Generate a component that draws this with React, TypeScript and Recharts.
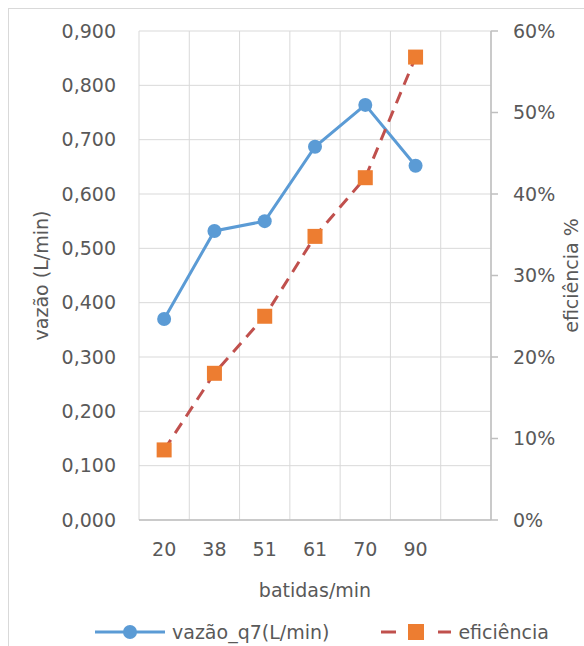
import {
  ComposedChart,
  Line,
  XAxis,
  YAxis,
  CartesianGrid,
  Legend,
} from "recharts";

const categorias = ["20", "38", "51", "61", "70", "90", ""];
const vazao = [0.37, 0.532, 0.55, 0.687, 0.764, 0.652, null];
const eficiencia = [0.086, 0.18, 0.25, 0.348, 0.42, 0.568, null];
const ticksVazao = [0, 0.1, 0.2, 0.3, 0.4, 0.5, 0.6, 0.7, 0.8, 0.9];
const ticksEficiencia = [0, 0.1, 0.2, 0.3, 0.4, 0.5, 0.6];

const data = categorias.map((c, i) => ({
  batidas: c,
  vazao: vazao[i],
  eficiencia: eficiencia[i],
}));

const AZUL = "#5B9BD5";
const LARANJA = "#ED7D31";
const VERMELHO = "#C0504D";
const TEXTO = "#595959";
const TAM = 19;
const fonte = { fill: TEXTO, fontSize: TAM };

function Quadrado(props: any) {
  const { cx, cy, index } = props;
  if (cx == null || cy == null) return <g key={index} />;
  return <rect key={index} x={cx - 7.5} y={cy - 7.5} width={15} height={15} fill={LARANJA} />;
}

function Legenda() {
  return (
    <div style={{ display: "flex", alignItems: "center", color: TEXTO, fontSize: TAM, lineHeight: "24px" }}>
      <svg width={70} height={20}>
        <line x1={0} y1={10} x2={70} y2={10} stroke={AZUL} strokeWidth={3} />
        <circle cx={35} cy={10} r={7} fill={AZUL} />
      </svg>
      <span style={{ marginLeft: 7 }}>vazão_q7(L/min)</span>
      <svg width={70} height={20} style={{ marginLeft: 52 }}>
        <line x1={0} y1={10} x2={15} y2={10} stroke={VERMELHO} strokeWidth={3} />
        <rect x={27} y={2} width={16} height={16} fill={LARANJA} />
        <line x1={57} y1={10} x2={70} y2={10} stroke={VERMELHO} strokeWidth={3} />
      </svg>
      <span style={{ marginLeft: 7 }}>eficiência</span>
    </div>
  );
}

export default function App() {
  return (
    <div
      style={{
        position: "absolute",
        top: 8,
        left: 8,
        width: 576,
        height: 638,
        overflow: "hidden",
        fontFamily: "'DejaVu Sans'",
      }}
    >
      <div style={{ width: 640, height: 680, border: "1px solid #d9d9d9" }}>
        <ComposedChart
          width={600}
          height={630}
          data={data}
          margin={{ top: 22, right: 18, bottom: 39, left: 0 }}
        >
          <CartesianGrid
            yAxisId="esq"
            stroke="#d9d9d9"
            strokeWidth={1}
            verticalCoordinatesGenerator={({ offset }: any) =>
              categorias
                .map((_, i) => offset.left + (i * offset.width) / categorias.length)
                .concat(offset.left + offset.width)
            }
          />
          <XAxis
            dataKey="batidas"
            scale="band"
            height={80}
            tickLine={false}
            axisLine={{ stroke: "#bfbfbf", strokeWidth: 1.5 }}
            tick={fonte}
            tickMargin={17}
            interval={0}
            label={{ value: "batidas/min", position: "insideBottom", offset: 3, fill: TEXTO, fontSize: TAM }}
          />
          <YAxis
            yAxisId="esq"
            orientation="left"
            width={130}
            domain={[0, 0.9]}
            ticks={ticksVazao}
            tickFormatter={(v: number) => v.toFixed(3).replace(".", ",")}
            axisLine={false}
            tickLine={false}
            tick={fonte}
            tickMargin={17}
            label={{
              value: "vazão (L/min)",
              angle: -90,
              position: "insideLeft",
              offset: 32,
              textAnchor: "middle",
              fill: TEXTO,
              fontSize: TAM,
            }}
          />
          <YAxis
            yAxisId="dir"
            orientation="right"
            width={100}
            domain={[0, 0.6]}
            ticks={ticksEficiencia}
            tickFormatter={(v: number) => `${Math.round(v * 100)}%`}
            axisLine={{ stroke: "#bfbfbf", strokeWidth: 1.5 }}
            tickLine={{ stroke: "#bfbfbf", strokeWidth: 1.5 }}
            tickSize={7}
            tickMargin={15}
            tick={fonte}
            label={{
              value: "eficiência %",
              angle: -90,
              position: "insideRight",
              offset: 20,
              textAnchor: "middle",
              fill: TEXTO,
              fontSize: TAM,
            }}
          />
          <Line
            yAxisId="esq"
            dataKey="vazao"
            stroke={AZUL}
            strokeWidth={3}
            dot={{ r: 7, fill: AZUL, stroke: AZUL, strokeWidth: 0 }}
            activeDot={false}
            isAnimationActive={false}
          />
          <Line
            yAxisId="dir"
            dataKey="eficiencia"
            stroke={VERMELHO}
            strokeWidth={3}
            strokeDasharray="12 8"
            dot={<Quadrado />}
            activeDot={false}
            isAnimationActive={false}
          />
          <Legend
            layout="horizontal"
            verticalAlign="middle"
            align="center"
            content={<Legenda />}
            wrapperStyle={{ top: 611, left: 86, width: 520 }}
          />
        </ComposedChart>
      </div>
    </div>
  );
}
